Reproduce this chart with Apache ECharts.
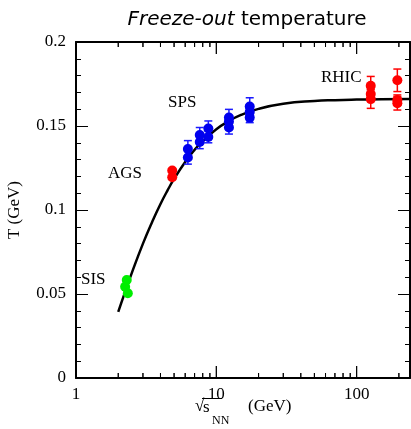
<!DOCTYPE html>
<html>
<head>
<meta charset="utf-8">
<script src="https://cdn.jsdelivr.net/npm/echarts@6/dist/echarts.min.js"></script>
<style>html,body{margin:0;padding:0;background:#fff}#c{width:411px;height:429px}</style>
</head>
<body>
<div id="c"></div>
<script>
// ---- data ----
const curveX = [2, 2.2, 2.5, 3, 3.5, 4, 4.5, 5, 6, 7, 8, 10, 12, 15, 20, 30, 50, 70, 100, 150, 240];
const curveY = [0.0393, 0.0495, 0.0626, 0.0800, 0.0932, 0.1036, 0.1118, 0.1185, 0.1286, 0.1358, 0.1410, 0.1481, 0.1525, 0.1566, 0.1602, 0.1632, 0.1649, 0.1654, 0.1657, 0.1659, 0.1660];

const sisX = [2.30, 2.24, 2.34];
const sisY = [0.0583, 0.0543, 0.0504];

const agsX = [4.85, 4.85];
const agsY = [0.1235, 0.1195];

const spsX   = [6.27, 6.27, 7.62, 7.62, 8.77, 8.77, 12.3, 12.3, 12.3, 17.3, 17.3, 17.3];
const spsY   = [0.1363, 0.1313, 0.1446, 0.1405, 0.1485, 0.1435, 0.1550, 0.1527, 0.1491, 0.1616, 0.1583, 0.1550];
const spsErr = [0.005, 0.004, 0.0045, 0.004, 0.0045, 0.0035, 0.0049, 0.002, 0.0039, 0.0052, 0.002, 0.003];

const rhicX   = [126, 126, 126, 195, 195, 195];
const rhicY   = [0.174, 0.169, 0.166, 0.1772, 0.1655, 0.1635];
const rhicErr = [0.0055, 0.003, 0.0055, 0.0067, 0.003, 0.004];

const xMajorTicks = [10, 100];
const xMinorTicks = [2, 3, 4, 5, 6, 7, 8, 9, 20, 30, 40, 50, 60, 70, 80, 90, 200];
const xMin = 1, xMax = 240;
const yMin = 0, yMax = 0.2, yStep = 0.05;

const groupLabels = ['SIS', 'AGS', 'SPS', 'RHIC'];

// ---- chart ----
const SERIF = 'Liberation Serif';
const chart = echarts.init(document.getElementById('c'), null, {renderer: 'canvas'});

function pairs(xs, ys) { return xs.map((x, i) => [x, ys[i]]); }
function triples(xs, ys, es) { return xs.map((x, i) => [x, ys[i], es[i]]); }

function errRender(color) {
  return function (params, api) {
    const x = api.value(0), y = api.value(1), e = api.value(2);
    const top = api.coord([x, y + e]);
    const bot = api.coord([x, y - e]);
    const hw = 4;
    const st = {stroke: color, lineWidth: 1.5};
    return {
      type: 'group',
      children: [
        {type: 'line', shape: {x1: top[0], y1: top[1], x2: bot[0], y2: bot[1]}, style: st},
        {type: 'line', shape: {x1: top[0] - hw, y1: top[1], x2: top[0] + hw, y2: top[1]}, style: st},
        {type: 'line', shape: {x1: bot[0] - hw, y1: bot[1], x2: bot[0] + hw, y2: bot[1]}, style: st}
      ]
    };
  };
}

// x-axis tick marks: x from the log axis (mid-height point), y from the grid rectangle
const yMid = (yMin + yMax) / 2;
function tickRender(params, api) {
  const v = api.value(0), len = api.value(2);
  const p = api.coord([v, yMid]);
  const cs = params.coordSys;
  const top = cs.y, bottom = cs.y + cs.height;
  const st = {stroke: '#000', lineWidth: 1};
  return {
    type: 'group',
    children: [
      {type: 'line', shape: {x1: p[0], y1: bottom, x2: p[0], y2: bottom - len}, style: st},
      {type: 'line', shape: {x1: p[0], y1: top, x2: p[0], y2: top + len}, style: st}
    ]
  };
}
const tickData = xMajorTicks.map(v => [v, yMid, 12]).concat(xMinorTicks.map(v => [v, yMid, 5]));

const axisLineStyle = {color: '#000', width: 2};
function isPow10(v) { const l = Math.log10(v); return Math.abs(l - Math.round(l)) < 1e-9; }
function xAx(pos, showLabel) {
  return {
    type: 'log', logBase: 10, min: xMin, max: xMax, position: pos,
    axisLine: {show: true, onZero: false, lineStyle: axisLineStyle},
    axisTick: {show: false},
    axisLabel: {show: showLabel, color: '#000', fontFamily: SERIF, fontSize: 17, margin: 8,
      showMaxLabel: false,
      formatter: v => isPow10(v) ? String(Math.round(v)) : ''},
    splitLine: {show: false}, minorTick: {show: false}, minorSplitLine: {show: false}
  };
}
function yAx(pos, showLabel) {
  return {
    type: 'value', min: yMin, max: yMax, interval: yStep, position: pos,
    axisLine: {show: true, onZero: false, lineStyle: axisLineStyle},
    axisTick: {show: true, inside: true, length: 12, lineStyle: {color: '#000', width: 1}},
    minorTick: {show: true, splitNumber: 5, length: 5, lineStyle: {color: '#000', width: 1}},
    axisLabel: {show: showLabel, color: '#000', fontFamily: SERIF, fontSize: 17, margin: 10},
    splitLine: {show: false}
  };
}

const labelPos = [[81, 280], [108, 174], [168, 103], [321, 78]];

const option = {
  backgroundColor: '#fff',
  animation: false,
  grid: {left: 76, right: 1, top: 42, bottom: 51, containLabel: false, outerBoundsMode: 'none'},
  xAxis: [xAx('bottom', true), xAx('top', false)],
  yAxis: [yAx('left', true), yAx('right', false)],
  series: [
    {type: 'custom', data: tickData, renderItem: tickRender, encode: {x: 0, y: 1}, silent: true, clip: false, z: 6},
    {type: 'line', data: pairs(curveX, curveY), smooth: true, showSymbol: false, symbol: 'none',
     lineStyle: {color: '#000', width: 2.5}, z: 2},
    {type: 'custom', data: triples(spsX, spsY, spsErr), renderItem: errRender('#1a1aff'), encode: {x: 0, y: 1}, z: 3},
    {type: 'custom', data: triples(rhicX, rhicY, rhicErr), renderItem: errRender('#ff0000'), encode: {x: 0, y: 1}, z: 3},
    {type: 'scatter', data: pairs(sisX, sisY), symbolSize: 10, itemStyle: {color: '#00ee00', opacity: 1}, z: 4},
    {type: 'scatter', data: pairs(agsX, agsY), symbolSize: 10, itemStyle: {color: '#ff0000', opacity: 1}, z: 4},
    {type: 'scatter', data: pairs(spsX, spsY), symbolSize: 10, itemStyle: {color: '#0000ee', opacity: 1}, z: 4},
    {type: 'scatter', data: pairs(rhicX, rhicY), symbolSize: 10, itemStyle: {color: '#ff0000', opacity: 1}, z: 4}
  ]
};
chart.setOption(option);

const graphics = [
  {type: 'text', x: 247, y: 20, style: {text: '{i|Freeze-out} temperature', align: 'center', verticalAlign: 'middle',
    font: '20px "DejaVu Sans"', fill: '#000',
    rich: {i: {fontStyle: 'italic', fontFamily: 'DejaVu Sans', fontSize: 20}}}},
  {type: 'text', x: 15, y: 210, rotation: Math.PI / 2,
    style: {text: 'T (GeV)', align: 'center', verticalAlign: 'middle', font: '17px "Liberation Serif"', fill: '#000'}},
  {type: 'text', x: 195, y: 407, style: {text: '\u221A', align: 'left', verticalAlign: 'middle', font: '17px "Liberation Serif"', fill: '#000'}},
  {type: 'text', x: 203, y: 408, style: {text: 's', align: 'left', verticalAlign: 'middle', font: '17px "Liberation Serif"', fill: '#000'}},
  {type: 'line', shape: {x1: 202, y1: 398.5, x2: 222, y2: 398.5}, style: {stroke: '#000', lineWidth: 1}},
  {type: 'text', x: 212, y: 421, style: {text: 'NN', align: 'left', verticalAlign: 'middle', font: '12px "Liberation Serif"', fill: '#000'}},
  {type: 'text', x: 248, y: 407, style: {text: '(GeV)', align: 'left', verticalAlign: 'middle', font: '17px "Liberation Serif"', fill: '#000'}}
].concat(groupLabels.map((t, i) => ({
  type: 'text', x: labelPos[i][0], y: labelPos[i][1],
  style: {text: t, align: 'left', verticalAlign: 'middle', font: '17px "Liberation Serif"', fill: '#000'}
})));

// Second path for the same x ticks: pixel positions taken from a data series' coordinate system
try {
  const spsIdx = 6;
  const pb = chart.convertToPixel({seriesIndex: spsIdx}, [xMin, yMin]);
  const pt = chart.convertToPixel({seriesIndex: spsIdx}, [xMin, yMax]);
  const addTicks = (vals, len) => vals.forEach(v => {
    const p = chart.convertToPixel({seriesIndex: spsIdx}, [v, yMid]);
    if (!p || !isFinite(p[0]) || !pb || !isFinite(pb[1])) return;
    graphics.push({type: 'line', silent: true, z: 10, shape: {x1: p[0], y1: pb[1], x2: p[0], y2: pb[1] - len}, style: {stroke: '#000', lineWidth: 1}});
    graphics.push({type: 'line', silent: true, z: 10, shape: {x1: p[0], y1: pt[1], x2: p[0], y2: pt[1] + len}, style: {stroke: '#000', lineWidth: 1}});
  });
  addTicks(xMajorTicks, 12);
  addTicks(xMinorTicks, 5);
} catch (e) { /* keep chart without the second tick path */ }

chart.setOption({graphic: graphics});
</script>
</body>
</html>
